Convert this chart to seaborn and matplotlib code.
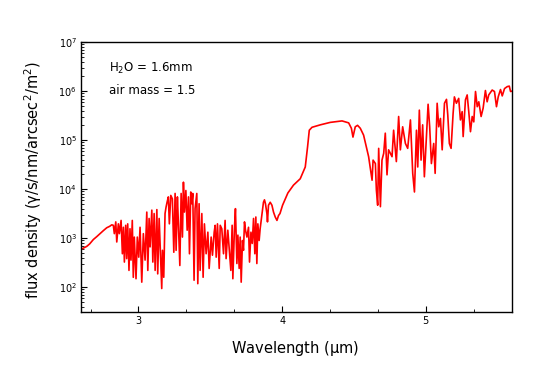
import numpy as np
import pandas as pd
import matplotlib
matplotlib.use("Agg")
import matplotlib.pyplot as plt
import matplotlib.ticker as mticker
import seaborn as sns

# Wavelength (micron) and log10 flux density
wavelength = [
    2.600, 2.620, 2.640, 2.660, 2.686, 2.710, 2.732, 2.755, 2.779, 2.800, 2.814,
    2.825, 2.832, 2.842, 2.849, 2.860, 2.867, 2.879, 2.888, 2.895, 2.902,
    2.911, 2.918, 2.925, 2.934, 2.941, 2.948, 2.957, 2.964, 2.971, 2.983,
    2.992, 3.002, 3.011, 3.023, 3.034, 3.046, 3.058, 3.065, 3.074, 3.081,
    3.093, 3.100, 3.109, 3.116, 3.128, 3.134, 3.144, 3.155, 3.162, 3.167,
    3.176, 3.185, 3.192, 3.199, 3.208, 3.215, 3.225, 3.236, 3.246, 3.255,
    3.262, 3.271, 3.278, 3.288, 3.297, 3.306, 3.313, 3.320, 3.330, 3.339,
    3.348, 3.355, 3.364, 3.371, 3.378, 3.387, 3.394, 3.406, 3.413, 3.422,
    3.429, 3.441, 3.450, 3.459, 3.471, 3.483, 3.492, 3.506, 3.515, 3.527,
    3.534, 3.541, 3.550, 3.562, 3.569, 3.580, 3.592, 3.603, 3.610, 3.622,
    3.631, 3.643, 3.652, 3.657, 3.668, 3.675, 3.685, 3.692, 3.701, 3.708,
    3.715, 3.724, 3.731, 3.738, 3.745, 3.755, 3.766, 3.773, 3.783, 3.792,
    3.801, 3.810, 3.817, 3.824, 3.831, 3.840, 3.847, 3.854, 3.863, 3.870,
    3.877, 3.884, 3.894, 3.898, 3.905, 3.917, 3.929, 3.940, 3.952, 3.964,
    3.975, 3.985, 4.003, 4.040, 4.079, 4.126, 4.161, 4.177, 4.189, 4.208,
    4.266, 4.335, 4.417, 4.463, 4.482, 4.493, 4.509, 4.525, 4.544, 4.567,
    4.586, 4.602, 4.626, 4.633, 4.649, 4.656, 4.665, 4.672, 4.684, 4.695,
    4.707, 4.718, 4.730, 4.741, 4.765, 4.776, 4.795, 4.811, 4.823, 4.839,
    4.858, 4.874, 4.893, 4.909, 4.921, 4.935, 4.944, 4.955, 4.967, 4.978,
    4.990, 5.004, 5.016, 5.027, 5.039, 5.055, 5.065, 5.079, 5.090, 5.102,
    5.114, 5.130, 5.144, 5.153, 5.164, 5.176, 5.190, 5.199, 5.213, 5.229,
    5.241, 5.253, 5.260, 5.276, 5.288, 5.299, 5.311, 5.323, 5.334, 5.346,
    5.358, 5.369, 5.385, 5.399, 5.415, 5.427, 5.438, 5.462, 5.478, 5.492,
    5.504, 5.520, 5.532, 5.548, 5.567, 5.581, 5.590, 5.604,
]
log_flux = [
    2.77, 2.80, 2.83, 2.88, 2.97, 3.03, 3.09, 3.15, 3.21, 3.24, 3.27,
    3.26, 3.09, 3.33, 2.92, 3.29, 3.09, 3.36, 2.68, 3.22, 2.51,
    3.26, 2.58, 3.29, 2.34, 3.19, 2.55, 3.36, 2.20, 3.02, 2.17,
    3.02, 2.61, 3.22, 2.10, 3.09, 2.55, 3.53, 2.34, 3.40, 2.82,
    3.57, 2.51, 3.50, 2.34, 3.58, 2.27, 3.40, 2.55, 1.97, 2.75,
    2.20, 3.50, 3.63, 3.73, 3.84, 3.29, 3.87, 3.80, 2.71, 3.91,
    2.75, 3.84, 3.29, 2.44, 3.91, 3.02, 4.14, 3.53, 3.97, 3.16,
    3.84, 2.68, 3.94, 3.70, 3.91, 2.14, 3.60, 3.91, 2.07, 3.70,
    2.34, 3.50, 2.20, 3.29, 2.68, 3.12, 2.38, 3.02, 2.65, 3.12,
    3.26, 2.61, 3.29, 2.38, 3.26, 3.19, 2.68, 3.36, 2.58, 3.16,
    2.82, 2.34, 3.26, 2.17, 3.19, 3.60, 2.48, 3.06, 2.38, 3.02,
    2.10, 2.95, 2.75, 3.33, 3.16, 3.02, 3.22, 2.51, 3.12, 2.89,
    3.40, 2.68, 3.43, 2.48, 3.29, 2.95, 3.19, 3.36, 3.57, 3.73,
    3.78, 3.70, 3.50, 3.33, 3.67, 3.73, 3.67, 3.53, 3.43, 3.36,
    3.46, 3.50, 3.67, 3.92, 4.08, 4.21, 4.45, 4.86, 5.20, 5.26,
    5.31, 5.36, 5.39, 5.35, 5.24, 5.06, 5.27, 5.30, 5.24, 5.10,
    4.86, 4.66, 4.18, 4.59, 4.52, 3.98, 3.67, 4.83, 3.64, 4.59,
    4.73, 5.14, 4.29, 4.80, 4.66, 5.20, 4.56, 5.48, 4.80, 5.27,
    4.93, 4.83, 5.41, 4.32, 3.94, 5.20, 4.45, 5.61, 4.59, 5.31,
    4.25, 5.07, 5.73, 5.27, 4.52, 4.93, 4.32, 5.75, 5.27, 5.44,
    4.80, 5.75, 5.83, 5.51, 4.93, 4.83, 5.54, 5.88, 5.75, 5.85,
    5.41, 5.58, 5.07, 5.82, 5.92, 5.58, 5.17, 5.48, 5.37, 5.99,
    5.68, 5.78, 5.48, 5.65, 6.01, 5.78, 5.92, 6.02, 5.99, 5.68,
    5.88, 6.03, 5.90, 6.05, 6.09, 6.10, 5.99, 6.00,
]

x_major_ticks = [3, 4, 5]
annotations = ["H$_2$O = 1.6mm", "air mass = 1.5"]
x_label = "Wavelength ($\\mu$m)"
y_label = "flux density (\u03b3/s/nm/arcsec$^2$/m$^2$)"

df = pd.DataFrame({"wavelength": wavelength,
                   "flux": np.power(10.0, log_flux)})

sns.set_theme(style="white")
plt.rcParams["font.family"] = ["DejaVu Sans"]
plt.rcParams["mathtext.default"] = "regular"
plt.rcParams["text.color"] = "black"
plt.rcParams["axes.labelcolor"] = "black"

fig = plt.figure(figsize=(5.45, 3.85), dpi=100)
ax = fig.add_axes([81 / 545, 1 - 312 / 385, (512 - 81) / 545, (312 - 42) / 385])

sns.lineplot(data=df, x="wavelength", y="flux", ax=ax, color="#ff0000",
             linewidth=1.2, estimator=None, sort=False)

ax.set_yscale("log")
ax.set_xlim(2.6, 5.6)
ax.set_ylim(31, 1e7)

ax.xaxis.set_major_locator(mticker.FixedLocator(x_major_ticks))
ax.xaxis.set_major_formatter(mticker.FormatStrFormatter("%d"))
ax.xaxis.set_minor_locator(mticker.MultipleLocator(1 / 3))
ax.yaxis.set_major_locator(mticker.LogLocator(base=10, numticks=10))
ax.yaxis.set_minor_locator(mticker.LogLocator(base=10, subs=np.arange(2, 10), numticks=20))
ax.yaxis.set_minor_formatter(mticker.NullFormatter())

ax.tick_params(axis="both", which="both", bottom=True, left=True, top=False, right=False)
ax.tick_params(axis="both", which="major", direction="in", length=4, width=0.8,
               labelsize=7, colors="black", labelcolor="black", pad=3)
ax.tick_params(axis="both", which="minor", direction="in", length=2, width=0.6,
               colors="black")

for s in ax.spines.values():
    s.set_color("black")
    s.set_linewidth(1.0)

ax.set_xlabel(x_label, fontsize=10.5, color="black")
ax.set_ylabel(y_label, fontsize=10.5, color="black")
ax.xaxis.set_label_coords((295 - 81) / (512 - 81), -(348 - 312) / (312 - 42))
ax.yaxis.set_label_coords(-(81 - 33) / (512 - 81), 0.49)
ax.xaxis.label.set_va("center")
ax.yaxis.label.set_va("center")

ax.text(109 / 545, 1 - 68 / 385, annotations[0], transform=fig.transFigure,
        fontsize=8.5, va="center", ha="left", color="black")
ax.text(109 / 545, 1 - 90 / 385, annotations[1], transform=fig.transFigure,
        fontsize=8.5, va="center", ha="left", color="black")

fig.savefig("out.png", dpi=100, facecolor="white")
